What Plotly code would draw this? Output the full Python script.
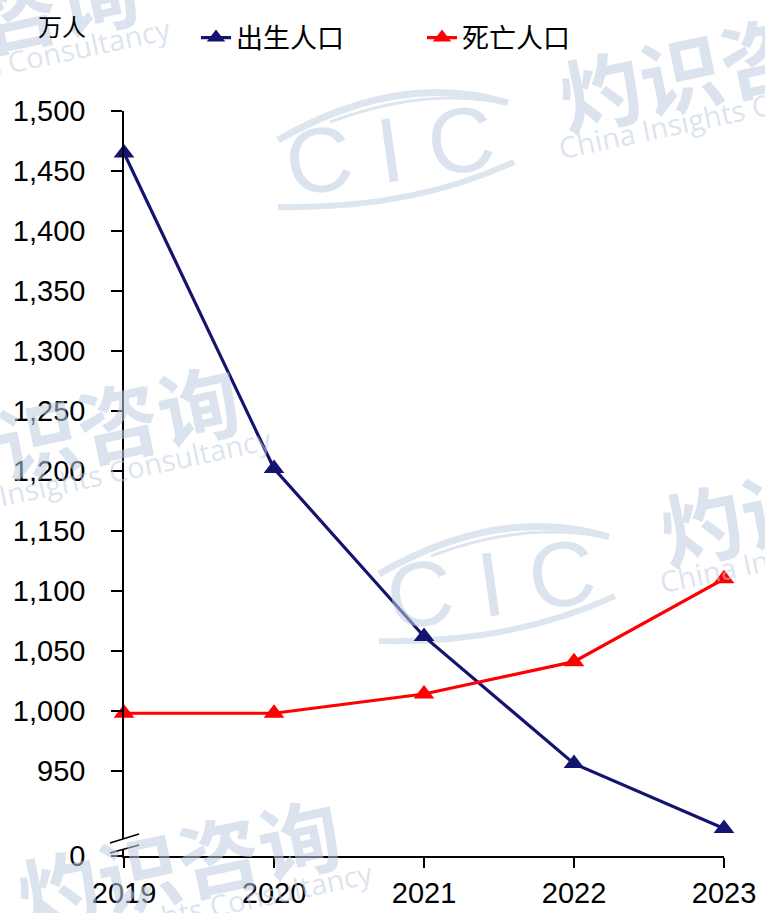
import plotly.graph_objects as go

# 出生 / 死亡人口（万人）
years = [2019, 2020, 2021, 2022, 2023]
births = [1465, 1202, 1062, 956, 902]
deaths = [998, 998, 1014, 1041, 1110]

y_break_value = 879  # 断轴后的底部位置，标为 0
y_ticks = [879, 950, 1000, 1050, 1100, 1150, 1200, 1250, 1300, 1350, 1400, 1450, 1500]
y_ticktext = ["0", "950", "1,000", "1,050", "1,100", "1,150", "1,200", "1,250",
              "1,300", "1,350", "1,400", "1,450", "1,500"]

W, H = 765, 913
ML, MR, MT, MB = 124, 41, 111, 57
PW, PH = W - ML - MR, H - MT - MB


def px(x, y):
    """pixel position -> paper coordinates"""
    return (x - ML) / PW, (H - MB - y) / PH


fig = go.Figure()
fig.add_trace(go.Scatter(
    x=years, y=births, name="出生人口", mode="lines+markers",
    line=dict(color="#141470", width=3.2),
    marker=dict(symbol="triangle-up", size=18, color="#141470"),
    cliponaxis=False,
))
fig.add_trace(go.Scatter(
    x=years, y=deaths, name="死亡人口", mode="lines+markers",
    line=dict(color="#FF0000", width=3.2),
    marker=dict(symbol="triangle-up", size=18, color="#FF0000"),
    cliponaxis=False,
))

# ---- watermark tiles ----
wm_color = "rgba(190,205,224,0.55)"
tiles = [(390, 150), (491, 584), (-253, 515), (-152, 949), (-354, 105)]
shapes = []
annotations = []


def qpath(points):
    (x0, y0), (x1, y1), (x2, y2) = [px(*p) for p in points]
    return f"M{x0},{y0} Q{x1},{y1} {x2},{y2}"


for cx, cy in tiles:
    # swoosh around the logo letters
    shapes.append(dict(type="path", xref="paper", yref="paper", layer="below",
                       path=qpath([(cx - 112, cy - 10), (cx + 10, cy - 80), (cx + 118, cy - 47)]),
                       line=dict(color="#DDE5EF", width=7)))
    shapes.append(dict(type="path", xref="paper", yref="paper", layer="below",
                       path=qpath([(cx - 60, cy - 28), (cx + 30, cy - 62), (cx + 108, cy - 48)]),
                       line=dict(color="#DDE5EF", width=3)))
    shapes.append(dict(type="path", xref="paper", yref="paper", layer="below",
                       path=qpath([(cx - 112, cy + 57), (cx + 20, cy + 60), (cx + 124, cy + 12)]),
                       line=dict(color="#DDE5EF", width=6)))
    ax, ay = px(cx, cy)
    annotations.append(dict(x=ax, y=ay, xref="paper", yref="paper", text="C I C",
                            showarrow=False, textangle=-8, xanchor="center", yanchor="middle",
                            font=dict(family="Liberation Sans", size=92, color=wm_color)))
    tx, ty = px(cx + 330, cy - 88)
    annotations.append(dict(x=tx, y=ty, xref="paper", yref="paper", text="<b>灼识咨询</b>",
                            showarrow=False, textangle=-12, xanchor="center", yanchor="middle",
                            font=dict(family="Noto Sans CJK SC", size=82, color=wm_color)))
    ex, ey = px(cx + 346, cy - 40)
    annotations.append(dict(x=ex, y=ey, xref="paper", yref="paper",
                            text="China Insights Consultancy",
                            showarrow=False, textangle=-12, xanchor="center", yanchor="middle",
                            font=dict(family="Open Sans", size=29, color=wm_color)))

# ---- axis break marks ----
bx0, by0 = px(110, 843)
bx1, by1 = px(139, 834)
bx2, by2 = px(110, 853)
bx3, by3 = px(139, 845)
shapes.append(dict(type="path", xref="paper", yref="paper", layer="above",
                   path=f"M{bx0},{by0} L{bx1},{by1} L{bx3},{by3} L{bx2},{by2} Z",
                   fillcolor="white", line=dict(width=0)))
for a, b, c, d in [(bx0, by0, bx1, by1), (bx2, by2, bx3, by3)]:
    shapes.append(dict(type="line", xref="paper", yref="paper", layer="above",
                       x0=a, y0=b, x1=c, y1=d, line=dict(color="black", width=1.5)))

# unit label
ux, uy = px(36, 25)
annotations.append(dict(x=ux, y=uy, xref="paper", yref="paper", text="万人",
                        showarrow=False, xanchor="left", yanchor="middle",
                        font=dict(family="Noto Sans CJK SC", size=24, color="black")))

lx, ly = px(196, 38)
fig.update_layout(
    width=W, height=H,
    margin=dict(l=ML, r=MR, t=MT, b=MB),
    paper_bgcolor="white", plot_bgcolor="rgba(0,0,0,0)",
    showlegend=True,
    legend=dict(orientation="h", x=lx, y=ly, xanchor="left", yanchor="middle",
                font=dict(family="Noto Sans CJK SC", size=27, color="black"),
                entrywidth=181, entrywidthmode="pixels", bgcolor="rgba(0,0,0,0)"),
    xaxis=dict(range=[2019, 2023], tickvals=years, ticktext=[str(y) for y in years],
               showline=True, linecolor="black", linewidth=1.5, ticks="outside",
               ticklen=10, tickcolor="black", tickwidth=1.5, showgrid=False, zeroline=False,
               automargin=False,
               tickfont=dict(family="Liberation Sans", size=29, color="black")),
    yaxis=dict(range=[y_break_value, 1500], tickvals=y_ticks, ticktext=y_ticktext,
               showline=True, linecolor="black", linewidth=1.5, ticks="outside",
               ticklen=11, tickcolor="black", tickwidth=1.5, showgrid=False, zeroline=False,
               ticklabelstandoff=20, automargin=False,
               tickfont=dict(family="Liberation Sans", size=29, color="black")),
    shapes=shapes,
    annotations=annotations,
)

fig.write_html("out.html")
